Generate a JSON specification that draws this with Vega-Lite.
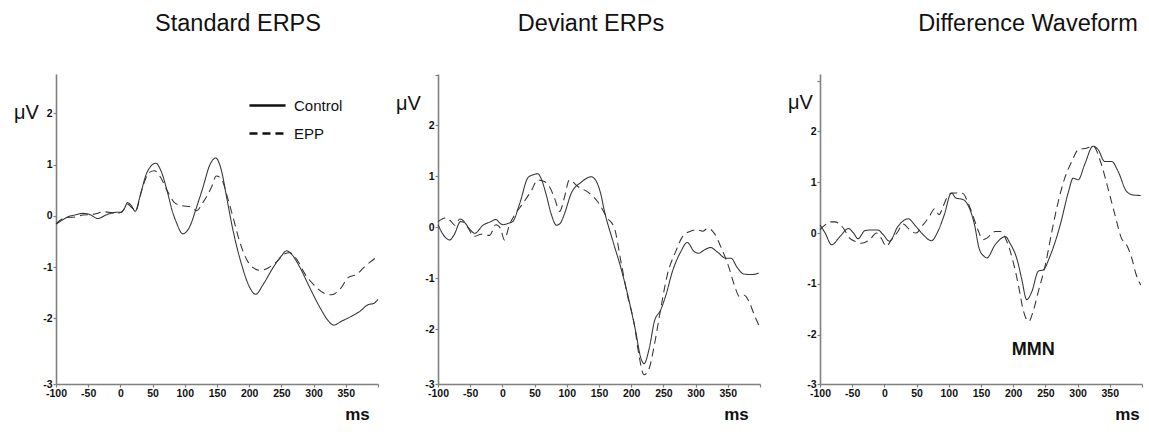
{
  "$schema": "https://vega.github.io/schema/vega-lite/v6.json",
  "padding": {"left": 13, "top": 11, "right": 5, "bottom": 5},
  "background": "white",
  "bounds": "flush",
  "spacing": 60,
  "config": {
    "font": "Liberation Sans",
    "view": {"stroke": null},
    "axis": {
      "grid": false,
      "domainColor": "#808080",
      "domainWidth": 1.6,
      "tickColor": "#808080",
      "tickWidth": 1.2,
      "tickSize": 3,
      "labelFont": "Liberation Sans",
      "labelFontWeight": "bold",
      "labelFontSize": 10.5,
      "labelColor": "#111",
      "labelPadding": 1,
      "labelFlush": false,
      "labelOverlap": false,
      "titleFont": "Liberation Sans",
      "titleColor": "#111"
    },
    "title": {"font": "Liberation Sans", "fontSize": 23.5, "fontWeight": "normal", "color": "#111", "baseline": "alphabetic", "offset": 39, "frame": "group", "anchor": "middle"}
  },
  "datasets": {
    "p1": [
      {"g":"Control","ms":-100,"v":-0.16},{"g":"Control","ms":-90,"v":-0.08},{"g":"Control","ms":-82,"v":-0.02},{"g":"Control","ms":-70,"v":0.02},{"g":"Control","ms":-58,"v":0.05},{"g":"Control","ms":-48,"v":0.03},{"g":"Control","ms":-35,"v":-0.05},{"g":"Control","ms":-22,"v":0.02},{"g":"Control","ms":-7,"v":0.07},{"g":"Control","ms":1,"v":0.07},{"g":"Control","ms":6,"v":0.14},{"g":"Control","ms":11,"v":0.26},{"g":"Control","ms":17,"v":0.2},{"g":"Control","ms":23,"v":0.09},{"g":"Control","ms":30,"v":0.36},{"g":"Control","ms":40,"v":0.81},{"g":"Control","ms":48,"v":0.98},{"g":"Control","ms":55,"v":1.03},{"g":"Control","ms":63,"v":0.88},{"g":"Control","ms":74,"v":0.42},{"g":"Control","ms":80,"v":0.12},{"g":"Control","ms":87,"v":-0.13},{"g":"Control","ms":97,"v":-0.35},{"g":"Control","ms":103,"v":-0.3},{"g":"Control","ms":108,"v":-0.2},{"g":"Control","ms":118,"v":0.16},{"g":"Control","ms":128,"v":0.55},{"g":"Control","ms":139,"v":1.0},{"g":"Control","ms":148,"v":1.13},{"g":"Control","ms":157,"v":0.88},{"g":"Control","ms":165,"v":0.36},{"g":"Control","ms":175,"v":-0.29},{"g":"Control","ms":188,"v":-0.94},{"g":"Control","ms":201,"v":-1.4},{"g":"Control","ms":210,"v":-1.53},{"g":"Control","ms":222,"v":-1.33},{"g":"Control","ms":237,"v":-1.01},{"g":"Control","ms":250,"v":-0.78},{"g":"Control","ms":258,"v":-0.68},{"g":"Control","ms":266,"v":-0.75},{"g":"Control","ms":279,"v":-1.01},{"g":"Control","ms":294,"v":-1.4},{"g":"Control","ms":310,"v":-1.79},{"g":"Control","ms":323,"v":-2.05},{"g":"Control","ms":331,"v":-2.13},{"g":"Control","ms":344,"v":-2.05},{"g":"Control","ms":357,"v":-1.97},{"g":"Control","ms":372,"v":-1.86},{"g":"Control","ms":385,"v":-1.73},{"g":"Control","ms":393,"v":-1.71},{"g":"Control","ms":400,"v":-1.63},
      {"g":"EPP","ms":-100,"v":-0.15},{"g":"EPP","ms":-84,"v":-0.03},{"g":"EPP","ms":-70,"v":-0.02},{"g":"EPP","ms":-58,"v":0.02},{"g":"EPP","ms":-43,"v":0.03},{"g":"EPP","ms":-25,"v":0.08},{"g":"EPP","ms":-7,"v":0.05},{"g":"EPP","ms":1,"v":0.07},{"g":"EPP","ms":6,"v":0.14},{"g":"EPP","ms":11,"v":0.23},{"g":"EPP","ms":18,"v":0.16},{"g":"EPP","ms":24,"v":0.1},{"g":"EPP","ms":32,"v":0.46},{"g":"EPP","ms":45,"v":0.85},{"g":"EPP","ms":53,"v":0.88},{"g":"EPP","ms":61,"v":0.78},{"g":"EPP","ms":74,"v":0.46},{"g":"EPP","ms":84,"v":0.26},{"g":"EPP","ms":95,"v":0.2},{"g":"EPP","ms":110,"v":0.18},{"g":"EPP","ms":118,"v":0.1},{"g":"EPP","ms":128,"v":0.26},{"g":"EPP","ms":141,"v":0.55},{"g":"EPP","ms":149,"v":0.78},{"g":"EPP","ms":157,"v":0.72},{"g":"EPP","ms":167,"v":0.33},{"g":"EPP","ms":175,"v":-0.03},{"g":"EPP","ms":185,"v":-0.49},{"g":"EPP","ms":196,"v":-0.85},{"g":"EPP","ms":206,"v":-1.01},{"g":"EPP","ms":217,"v":-1.06},{"g":"EPP","ms":230,"v":-1.01},{"g":"EPP","ms":243,"v":-0.89},{"g":"EPP","ms":255,"v":-0.74},{"g":"EPP","ms":263,"v":-0.72},{"g":"EPP","ms":274,"v":-0.85},{"g":"EPP","ms":287,"v":-1.14},{"g":"EPP","ms":300,"v":-1.34},{"g":"EPP","ms":315,"v":-1.5},{"g":"EPP","ms":328,"v":-1.54},{"g":"EPP","ms":341,"v":-1.43},{"g":"EPP","ms":354,"v":-1.2},{"g":"EPP","ms":367,"v":-1.14},{"g":"EPP","ms":380,"v":-0.98},{"g":"EPP","ms":393,"v":-0.85},{"g":"EPP","ms":400,"v":-0.78}
    ],
    "p2": [
      {"g":"Control","ms":-100,"v":0.05},{"g":"Control","ms":-90,"v":-0.18},{"g":"Control","ms":-82,"v":-0.25},{"g":"Control","ms":-75,"v":-0.15},{"g":"Control","ms":-65,"v":0.11},{"g":"Control","ms":-60,"v":0.1},{"g":"Control","ms":-50,"v":-0.05},{"g":"Control","ms":-43,"v":-0.12},{"g":"Control","ms":-30,"v":0.04},{"g":"Control","ms":-20,"v":0.1},{"g":"Control","ms":-10,"v":0.15},{"g":"Control","ms":-3,"v":0.07},{"g":"Control","ms":1,"v":0.05},{"g":"Control","ms":10,"v":0.08},{"g":"Control","ms":16,"v":0.11},{"g":"Control","ms":27,"v":0.47},{"g":"Control","ms":40,"v":0.98},{"g":"Control","ms":48,"v":1.03},{"g":"Control","ms":55,"v":1.05},{"g":"Control","ms":60,"v":0.96},{"g":"Control","ms":68,"v":0.64},{"g":"Control","ms":76,"v":0.25},{"g":"Control","ms":84,"v":0.04},{"g":"Control","ms":90,"v":0.08},{"g":"Control","ms":96,"v":0.25},{"g":"Control","ms":107,"v":0.67},{"g":"Control","ms":122,"v":0.88},{"g":"Control","ms":138,"v":0.99},{"g":"Control","ms":145,"v":0.92},{"g":"Control","ms":153,"v":0.64},{"g":"Control","ms":158,"v":0.34},{"g":"Control","ms":171,"v":-0.25},{"g":"Control","ms":184,"v":-0.8},{"g":"Control","ms":197,"v":-1.46},{"g":"Control","ms":207,"v":-2.05},{"g":"Control","ms":215,"v":-2.57},{"g":"Control","ms":220,"v":-2.68},{"g":"Control","ms":228,"v":-2.38},{"g":"Control","ms":236,"v":-1.85},{"g":"Control","ms":246,"v":-1.62},{"g":"Control","ms":254,"v":-1.33},{"g":"Control","ms":264,"v":-0.87},{"g":"Control","ms":277,"v":-0.48},{"g":"Control","ms":287,"v":-0.3},{"g":"Control","ms":298,"v":-0.48},{"g":"Control","ms":305,"v":-0.51},{"g":"Control","ms":313,"v":-0.45},{"g":"Control","ms":323,"v":-0.4},{"g":"Control","ms":334,"v":-0.49},{"g":"Control","ms":347,"v":-0.61},{"g":"Control","ms":355,"v":-0.61},{"g":"Control","ms":365,"v":-0.8},{"g":"Control","ms":375,"v":-0.92},{"g":"Control","ms":388,"v":-0.93},{"g":"Control","ms":398,"v":-0.9},
      {"g":"EPP","ms":-100,"v":0.11},{"g":"EPP","ms":-88,"v":0.18},{"g":"EPP","ms":-80,"v":0.12},{"g":"EPP","ms":-74,"v":0.04},{"g":"EPP","ms":-66,"v":0.16},{"g":"EPP","ms":-60,"v":0.12},{"g":"EPP","ms":-53,"v":-0.02},{"g":"EPP","ms":-44,"v":-0.18},{"g":"EPP","ms":-33,"v":-0.14},{"g":"EPP","ms":-20,"v":-0.16},{"g":"EPP","ms":-10,"v":0.05},{"g":"EPP","ms":-3,"v":-0.02},{"g":"EPP","ms":3,"v":-0.25},{"g":"EPP","ms":11,"v":0.05},{"g":"EPP","ms":19,"v":0.24},{"g":"EPP","ms":32,"v":0.47},{"g":"EPP","ms":45,"v":0.72},{"g":"EPP","ms":55,"v":0.93},{"g":"EPP","ms":65,"v":0.9},{"g":"EPP","ms":73,"v":0.8},{"g":"EPP","ms":81,"v":0.57},{"g":"EPP","ms":89,"v":0.31},{"g":"EPP","ms":96,"v":0.57},{"g":"EPP","ms":104,"v":0.93},{"g":"EPP","ms":117,"v":0.8},{"g":"EPP","ms":135,"v":0.67},{"g":"EPP","ms":148,"v":0.5},{"g":"EPP","ms":163,"v":0.18},{"g":"EPP","ms":174,"v":-0.02},{"g":"EPP","ms":184,"v":-0.67},{"g":"EPP","ms":194,"v":-1.33},{"g":"EPP","ms":205,"v":-1.92},{"g":"EPP","ms":212,"v":-2.51},{"g":"EPP","ms":220,"v":-2.9},{"g":"EPP","ms":228,"v":-2.77},{"g":"EPP","ms":236,"v":-2.31},{"g":"EPP","ms":246,"v":-1.59},{"g":"EPP","ms":256,"v":-0.94},{"g":"EPP","ms":269,"v":-0.48},{"g":"EPP","ms":280,"v":-0.18},{"g":"EPP","ms":292,"v":-0.08},{"g":"EPP","ms":303,"v":-0.05},{"g":"EPP","ms":311,"v":-0.08},{"g":"EPP","ms":319,"v":-0.02},{"g":"EPP","ms":329,"v":-0.12},{"g":"EPP","ms":339,"v":-0.38},{"g":"EPP","ms":352,"v":-0.8},{"g":"EPP","ms":360,"v":-1.13},{"g":"EPP","ms":368,"v":-1.36},{"g":"EPP","ms":375,"v":-1.33},{"g":"EPP","ms":383,"v":-1.46},{"g":"EPP","ms":391,"v":-1.72},{"g":"EPP","ms":398,"v":-1.92}
    ],
    "p3": [
      {"g":"Control","ms":-100,"v":0.16},{"g":"Control","ms":-92,"v":0.0},{"g":"Control","ms":-82,"v":-0.23},{"g":"Control","ms":-69,"v":-0.07},{"g":"Control","ms":-56,"v":0.09},{"g":"Control","ms":-48,"v":0.0},{"g":"Control","ms":-41,"v":-0.11},{"g":"Control","ms":-30,"v":0.05},{"g":"Control","ms":-20,"v":0.06},{"g":"Control","ms":-10,"v":0.06},{"g":"Control","ms":-2,"v":-0.03},{"g":"Control","ms":8,"v":-0.16},{"g":"Control","ms":21,"v":0.13},{"g":"Control","ms":37,"v":0.28},{"g":"Control","ms":49,"v":0.13},{"g":"Control","ms":60,"v":-0.03},{"g":"Control","ms":73,"v":-0.15},{"g":"Control","ms":83,"v":0.03},{"g":"Control","ms":93,"v":0.36},{"g":"Control","ms":104,"v":0.79},{"g":"Control","ms":111,"v":0.69},{"g":"Control","ms":122,"v":0.66},{"g":"Control","ms":132,"v":0.49},{"g":"Control","ms":140,"v":0.16},{"g":"Control","ms":147,"v":-0.3},{"g":"Control","ms":155,"v":-0.46},{"g":"Control","ms":159,"v":-0.49},{"g":"Control","ms":172,"v":-0.23},{"g":"Control","ms":188,"v":-0.07},{"g":"Control","ms":195,"v":-0.2},{"g":"Control","ms":206,"v":-0.52},{"g":"Control","ms":213,"v":-0.89},{"g":"Control","ms":221,"v":-1.31},{"g":"Control","ms":229,"v":-1.15},{"g":"Control","ms":239,"v":-0.75},{"g":"Control","ms":247,"v":-0.72},{"g":"Control","ms":257,"v":-0.46},{"g":"Control","ms":273,"v":0.16},{"g":"Control","ms":286,"v":0.82},{"g":"Control","ms":293,"v":1.08},{"g":"Control","ms":301,"v":1.05},{"g":"Control","ms":311,"v":1.35},{"g":"Control","ms":324,"v":1.71},{"g":"Control","ms":332,"v":1.64},{"g":"Control","ms":342,"v":1.41},{"g":"Control","ms":353,"v":1.41},{"g":"Control","ms":363,"v":1.21},{"g":"Control","ms":376,"v":0.82},{"g":"Control","ms":386,"v":0.75},{"g":"Control","ms":398,"v":0.74},
      {"g":"EPP","ms":-100,"v":0.07},{"g":"EPP","ms":-92,"v":0.16},{"g":"EPP","ms":-85,"v":0.22},{"g":"EPP","ms":-77,"v":0.22},{"g":"EPP","ms":-64,"v":0.1},{"g":"EPP","ms":-54,"v":-0.1},{"g":"EPP","ms":-46,"v":-0.16},{"g":"EPP","ms":-36,"v":-0.2},{"g":"EPP","ms":-23,"v":-0.13},{"g":"EPP","ms":-12,"v":0.0},{"g":"EPP","ms":-5,"v":-0.1},{"g":"EPP","ms":3,"v":-0.26},{"g":"EPP","ms":11,"v":-0.13},{"g":"EPP","ms":21,"v":0.03},{"g":"EPP","ms":29,"v":0.18},{"g":"EPP","ms":39,"v":0.07},{"g":"EPP","ms":49,"v":0.0},{"g":"EPP","ms":60,"v":0.16},{"g":"EPP","ms":70,"v":0.33},{"g":"EPP","ms":78,"v":0.48},{"g":"EPP","ms":85,"v":0.36},{"g":"EPP","ms":91,"v":0.52},{"g":"EPP","ms":98,"v":0.72},{"g":"EPP","ms":106,"v":0.79},{"g":"EPP","ms":122,"v":0.78},{"g":"EPP","ms":129,"v":0.62},{"g":"EPP","ms":137,"v":0.36},{"g":"EPP","ms":145,"v":0.07},{"g":"EPP","ms":153,"v":-0.13},{"g":"EPP","ms":159,"v":-0.1},{"g":"EPP","ms":172,"v":0.03},{"g":"EPP","ms":180,"v":0.03},{"g":"EPP","ms":190,"v":-0.16},{"g":"EPP","ms":201,"v":-0.62},{"g":"EPP","ms":208,"v":-1.02},{"g":"EPP","ms":216,"v":-1.54},{"g":"EPP","ms":224,"v":-1.74},{"g":"EPP","ms":231,"v":-1.54},{"g":"EPP","ms":239,"v":-1.15},{"g":"EPP","ms":250,"v":-0.62},{"g":"EPP","ms":260,"v":0.03},{"g":"EPP","ms":270,"v":0.62},{"g":"EPP","ms":280,"v":1.08},{"g":"EPP","ms":291,"v":1.41},{"g":"EPP","ms":301,"v":1.64},{"g":"EPP","ms":314,"v":1.67},{"g":"EPP","ms":324,"v":1.71},{"g":"EPP","ms":337,"v":1.35},{"g":"EPP","ms":347,"v":0.89},{"g":"EPP","ms":358,"v":0.36},{"g":"EPP","ms":368,"v":-0.1},{"g":"EPP","ms":376,"v":-0.23},{"g":"EPP","ms":384,"v":-0.49},{"g":"EPP","ms":391,"v":-0.82},{"g":"EPP","ms":398,"v":-1.02}
    ]
  },
  "resolve": {"scale": {"strokeDash": "independent"}, "legend": {"strokeDash": "independent"}},
  "hconcat": [
    {
      "width": 322, "height": 310,
      "title": {"text": "Standard ERPS", "dx": 21},
      "data": {"name": "p1"},
      "mark": {"type": "line", "interpolate": "monotone", "color": "#333333", "strokeWidth": 1.05},
      "encoding": {
        "x": {"field": "ms", "type": "quantitative", "scale": {"domain": [-100, 400], "nice": false, "zero": false},
          "axis": {"values": [-100,-50,0,50,100,150,200,250,300,350,400], "labelOverlap": false, "labelExpr": "datum.value == 400 ? '' : replace(datum.label, '−', '-')", "title": "ms", "titleX": 301, "titleY": 35, "titleAlign": "center", "titleBaseline": "alphabetic", "titleFontSize": 17, "titleFontWeight": "bold"}},
        "y": {"field": "v", "type": "quantitative", "scale": {"domain": [-3.28, 2.77], "nice": false, "zero": false},
          "axis": {"values": [-3.28,-2,-1,0,1,2], "labelOverlap": false, "labelExpr": "datum.value < -2.5 ? '-3' : replace(datum.label, '−', '-')", "title": "μV", "titleAngle": 0, "titleX": -30, "titleY": 44, "titleAlign": "center", "titleBaseline": "alphabetic", "titleFontSize": 20, "titleFontWeight": "normal"}},
        "strokeDash": {"field": "g", "type": "nominal", "scale": {"domain": ["Control", "EPP"], "range": [[1, 0], [8, 5]]},
          "legend": {"orient": "none", "legendX": 192, "legendY": 12, "title": null, "symbolType": "stroke", "symbolSize": 1300, "symbolStrokeWidth": 2.5, "symbolStrokeColor": "#111", "labelFontSize": 15, "labelFont": "Liberation Sans", "labelColor": "#111", "labelOffset": 7, "rowPadding": 0}}
      }
    },
    {
      "width": 322, "height": 310,
      "title": {"text": "Deviant ERPs", "dx": -8},
      "data": {"name": "p2"},
      "mark": {"type": "line", "interpolate": "monotone", "color": "#333333", "strokeWidth": 1.05},
      "encoding": {
        "x": {"field": "ms", "type": "quantitative", "scale": {"domain": [-100, 400], "nice": false, "zero": false},
          "axis": {"values": [-100,-50,0,50,100,150,200,250,300,350,400], "labelOverlap": false, "labelExpr": "datum.value == 400 ? '' : replace(datum.label, '−', '-')", "title": "ms", "titleX": 298, "titleY": 35, "titleAlign": "center", "titleBaseline": "alphabetic", "titleFontSize": 17, "titleFontWeight": "bold"}},
        "y": {"field": "v", "type": "quantitative", "scale": {"domain": [-3.08, 3.01], "nice": false, "zero": false},
          "axis": {"values": [-3.08,-2,-1,0,1,2,3], "labelOverlap": false, "labelFontSize": {"condition": {"test": "datum.value > 2.5", "value": 0}, "value": 10.5}, "labelExpr": "datum.value < -2.5 ? '-3' : datum.value > 2.5 ? '' : replace(datum.label, '−', '-')", "title": "μV", "titleAngle": 0, "titleX": -30, "titleY": 35, "titleAlign": "center", "titleBaseline": "alphabetic", "titleFontSize": 20, "titleFontWeight": "normal"}},
        "strokeDash": {"field": "g", "type": "nominal", "scale": {"domain": ["Control", "EPP"], "range": [[1, 0], [8, 5]]}, "legend": null}
      }
    },
    {
      "width": 322, "height": 310,
      "title": {"text": "Difference Waveform", "dx": 47},
      "encoding": {
        "x": {"field": "ms", "type": "quantitative", "scale": {"domain": [-100, 400], "nice": false, "zero": false},
          "axis": {"values": [-100,-50,0,50,100,150,200,250,300,350,400], "labelOverlap": false, "labelExpr": "datum.value == 400 ? '' : replace(datum.label, '−', '-')", "title": "ms", "titleX": 307, "titleY": 35, "titleAlign": "center", "titleBaseline": "alphabetic", "titleFontSize": 17, "titleFontWeight": "bold"}},
        "y": {"field": "v", "type": "quantitative", "scale": {"domain": [-2.97, 3.13], "nice": false, "zero": false},
          "axis": {"values": [-2.97,-2,-1,0,1,2,3], "labelOverlap": false, "labelFontSize": {"condition": {"test": "datum.value > 2.5", "value": 0}, "value": 10.5}, "labelExpr": "datum.value < -2.5 ? '-3' : datum.value > 2.5 ? '' : replace(datum.label, '−', '-')", "title": "μV", "titleAngle": 0, "titleX": -20, "titleY": 34, "titleAlign": "center", "titleBaseline": "alphabetic", "titleFontSize": 20, "titleFontWeight": "normal"}}
      },
      "layer": [
        {
          "data": {"name": "p3"},
          "mark": {"type": "line", "interpolate": "monotone", "color": "#333333", "strokeWidth": 1.05},
          "encoding": {
            "strokeDash": {"field": "g", "type": "nominal", "scale": {"domain": ["Control", "EPP"], "range": [[1, 0], [8, 5]]}, "legend": null}
          }
        },
        {
          "data": {"values": [{"ms": 231, "v": -2.39, "label": "MMN"}]},
          "mark": {"type": "text", "fontSize": 18, "fontWeight": "bold", "font": "Liberation Sans", "align": "center", "baseline": "alphabetic", "color": "#111"},
          "encoding": {
            "text": {"field": "label"}
          }
        }
      ]
    }
  ]
}
